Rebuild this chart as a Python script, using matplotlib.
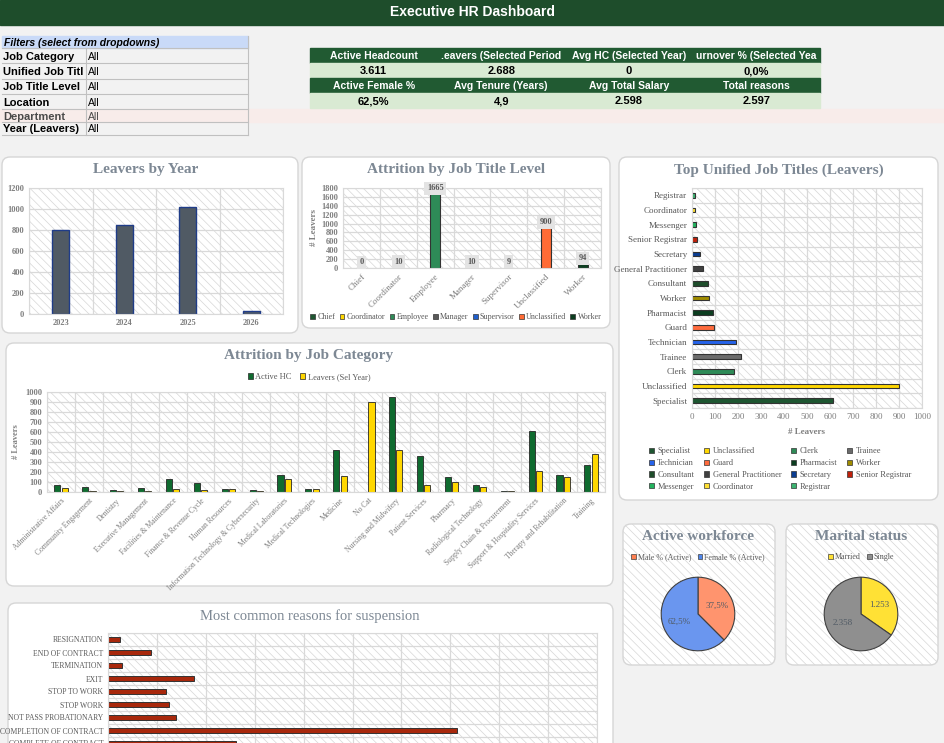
import numpy as np
import matplotlib.pyplot as plt
from matplotlib.patches import Rectangle, FancyBboxPatch, Patch

W, H = 945, 743
plt.rcParams['hatch.linewidth'] = 0.5
SERIF = ['Liberation Serif', 'DejaVu Serif']
NARROW = ['Liberation Sans Narrow', 'Liberation Sans', 'DejaVu Sans']

# ---- data ----
filter_labels = ['Job Category', 'Unified Job Titl', 'Job Title Level', 'Location', 'Department', 'Year (Leavers)']
filter_values = ['All', 'All', 'All', 'All', 'All', 'All']

kpi_head1 = ['Active Headcount', '.eavers (Selected Period', 'Avg HC (Selected Year)', 'urnover % (Selected Yea']
kpi_val1 = ['3.611', '2.688', '0', '0,0%']
kpi_head2 = ['Active Female %', 'Avg Tenure (Years)', 'Avg Total Salary', 'Total reasons']
kpi_val2 = ['62,5%', '4,9', '2.598', '2.597']

years = ['2023', '2024', '2025', '2026']
leavers_year = [800, 850, 1020, 30]

levels = ['Chief', 'Coordinator', 'Employee', 'Manager', 'Supervisor', 'Unclassified', 'Worker']
level_leavers = [0, 10, 1665, 10, 9, 900, 94]
level_colors = ['#1e5631', '#ffd700', '#2e8b57', '#595959', '#1f5fcc', '#ff6b35', '#0b3d1f']

job_titles = ['Specialist', 'Unclassified', 'Clerk', 'Trainee', 'Technician', 'Guard', 'Pharmacist',
              'Worker', 'Consultant', 'General Practitioner', 'Secretary', 'Senior Registrar',
              'Messenger', 'Coordinator', 'Registrar']
title_leavers = [612, 900, 183, 213, 191, 95, 91, 74, 70, 48, 35, 22, 17, 13, 13]
title_colors = ['#1e5631', '#ffd700', '#2e8b57', '#6b6b6b', '#2563eb', '#ff6b3d', '#0b3d1f',
                '#a08c00', '#1e4d2b', '#404040', '#0b3d91', '#c0200a', '#22b35e', '#ffe033', '#3cb371']

categories = ['Administrative Affairs', 'Community Engagement', 'Dentistry', 'Executive Management',
              'Facilities & Maintenance', 'Finance & Revenue Cycle', 'Human Resources',
              'Information Technology & Cybersecurity', 'Medical Laboratories', 'Medical Technologies',
              'Medicine', 'No Cat', 'Nursing and Midwifery', 'Patient Services', 'Pharmacy',
              'Radiological Technology', 'Supply Chain & Procurement', 'Support & Hospitality Services',
              'Therapy and Rehabilitation', 'Training']
active_hc = [75, 55, 25, 45, 135, 95, 35, 25, 175, 35, 420, 0, 955, 360, 155, 75, 15, 615, 175, 270]
leavers_sel = [45, 15, 15, 15, 35, 25, 35, 15, 135, 35, 160, 900, 420, 75, 105, 55, 15, 210, 155, 380]

gender = ['Male % (Active)', 'Female % (Active)']
gender_pct = [37.5, 62.5]
marital = ['Married', 'Single']
marital_count = [1253, 2358]

reasons = ['RESIGNATION', 'END OF CONTRACT', 'TERMINATION', 'EXIT', 'STOP TO WORK', 'STOP WORK',
           'NOT PASS PROBATIONARY', 'COMPLETION OF CONTRACT', 'COMPLETE OF CONTRACT']
reason_counts = [25, 88, 29, 175, 118, 124, 140, 713, 261]

TITLE_C = '#7d8894'
TICK_C = '#7f7f7f'
GRID_C = '#d9d9d9'


def box(x0, y0, x1, y1):
    return [x0 / W, 1 - y1 / H, (x1 - x0) / W, (y1 - y0) / H]


def style(ax):
    ax.set_facecolor('white')
    ax.add_patch(Rectangle((0, 0), 1, 1, transform=ax.transAxes, facecolor='white',
                           edgecolor='#d6d6d6', hatch='\\\\\\\\', linewidth=0, zorder=-1))
    for s in ax.spines.values():
        s.set_color(GRID_C)
    ax.set_axisbelow(True)
    ax.tick_params(length=0, colors=TICK_C, labelsize=6)
    for lab in ax.get_xticklabels() + ax.get_yticklabels():
        lab.set_family(SERIF)


fig = plt.figure(figsize=(9.45, 7.43), dpi=100)
fig.patch.set_facecolor('#f2f2f2')
bg = fig.add_axes([0, 0, 1, 1])
bg.set_xlim(0, W)
bg.set_ylim(H, 0)
bg.axis('off')

# header
bg.add_patch(Rectangle((0, 0), W, 25, color='#1e4d2b'))
bg.text(W / 2, 12.5, 'Executive HR Dashboard', color='white', weight='bold', fontsize=10,
        ha='center', va='center', family=['Liberation Sans', 'DejaVu Sans'])

# filters
bg.add_patch(Rectangle((2, 36), 246, 12, color='#c9daf8'))
bg.text(4, 42.5, 'Filters (select from dropdowns)', style='italic', weight='bold', fontsize=7.5,
        va='center', family=NARROW)
bounds = [48, 63, 79, 94, 109, 122, 135]
bg.add_patch(Rectangle((0, 109), W, 13, color='#f8ecea'))
for i, (lab, val) in enumerate(zip(filter_labels, filter_values)):
    yc = (bounds[i] + bounds[i + 1]) / 2 + 1
    col = '#4a4a4a' if lab == 'Department' else 'black'
    bg.text(3, yc, lab, weight='bold', fontsize=8, va='center', family=NARROW, color=col)
    bg.text(88, yc, val, fontsize=7.5, va='center', family=NARROW, color=col)
for b in bounds:
    bg.plot([2, 248], [b, b], color='#c0c0c0', lw=0.8)
bg.plot([86, 86], [48, 135], color='#c0c0c0', lw=0.8)
bg.plot([248, 248], [36, 135], color='#c0c0c0', lw=0.8)

# KPI table
kx0, kw = 310, 127.5
rows = [(kpi_head1, 48, True), (kpi_val1, 63, False), (kpi_head2, 78, True), (kpi_val2, 93, False)]
for texts, y0, head in rows:
    bg.add_patch(Rectangle((kx0, y0), kw * 4, 15, color='#215a32' if head else '#d9ead3'))
    for j, t in enumerate(texts):
        bg.text(kx0 + kw * (j + 0.5), y0 + 8, t, ha='center', va='center', weight='bold',
                fontsize=7.5 if head else 8, color='white' if head else 'black', family=NARROW,
                clip_on=True)

# cards
cards = [(2, 157, 298, 333, False), (302, 157, 610, 328, False), (619, 157, 938, 500, False),
         (6, 343, 613, 586, False), (623, 524, 775, 665, True), (786, 524, 938, 665, True),
         (8, 603, 613, 790, False)]
for x0, y0, x1, y1, hat in cards:
    bg.add_patch(FancyBboxPatch((x0, y0), x1 - x0, y1 - y0, boxstyle='round,pad=0,rounding_size=8',
                                facecolor='white', edgecolor='#d6d6d6', lw=1,
                                hatch='\\\\\\\\' if hat else None))

tkw = dict(ha='center', va='center', color=TITLE_C, fontsize=11, weight='bold', family=SERIF)
bg.text(146, 170, 'Leavers by Year', **tkw)
bg.text(456, 170, 'Attrition by Job Title Level', **tkw)
bg.text(779, 170, 'Top Unified Job Titles (Leavers)', **tkw)
bg.text(309, 355, 'Attrition by Job Category', **tkw)
bg.text(698, 537, 'Active workforce', **tkw)
bg.text(861, 537, 'Marital status', **tkw)
bg.text(310, 616, 'Most common reasons for suspension', ha='center', va='center', color=TITLE_C,
        fontsize=10.5, family=SERIF)

# Leavers by Year
ax1 = fig.add_axes(box(29, 188, 283, 314))
style(ax1)
ax1.bar(years, leavers_year, width=0.27, color='#505a64', edgecolor='#1f3c88', lw=1)
ax1.set_ylim(0, 1200)
ax1.set_yticks(range(0, 1201, 200))
ax1.set_xlim(-0.5, 3.5)
ax1.set_xticks(np.arange(-0.5, 4, 1), minor=True)
ax1.grid(axis='y', color=GRID_C, lw=0.9)
ax1.grid(axis='x', which='minor', color=GRID_C, lw=0.9)
ax1.tick_params(which='minor', length=0)
for lab in ax1.get_xticklabels() + ax1.get_yticklabels():
    lab.set_weight('bold')

# Attrition by Job Title Level
ax2 = fig.add_axes(box(343, 188, 601, 268))
style(ax2)
xl = np.arange(len(levels))
ax2.bar(xl, level_leavers, width=0.27, color=level_colors, edgecolor='#333333', lw=0.8)
for x, v in zip(xl, level_leavers):
    ax2.text(x, v + 130, str(v), ha='center', va='center', fontsize=6, weight='bold',
             color='#595959', family=SERIF, clip_on=False,
             bbox=dict(facecolor='#e3e3e3', edgecolor='none', pad=1.8))
ax2.set_ylim(0, 1800)
ax2.set_yticks(range(0, 1801, 200))
ax2.set_xlim(-0.5, len(levels) - 0.5)
ax2.set_xticks(xl)
ax2.set_xticklabels(levels, rotation=45, ha='right', rotation_mode='anchor', family=SERIF,
                    fontsize=6.5)
ax2.set_xticks(np.arange(-0.5, len(levels), 1), minor=True)
ax2.grid(axis='y', color=GRID_C, lw=0.9)
ax2.grid(axis='x', which='minor', color=GRID_C, lw=0.9)
ax2.tick_params(which='minor', length=0)
ax2.set_ylabel('# Leavers', fontsize=6.5, weight='bold', color=TICK_C, family=SERIF, labelpad=2)
for lab in ax2.get_yticklabels():
    lab.set_weight('bold')
h2 = [Patch(facecolor=c, edgecolor='#333333', lw=0.5) for c in level_colors]
fig.legend(h2, levels, loc='center', bbox_to_anchor=(456 / W, 1 - 317 / H), ncol=7,
           frameon=False, prop={'family': SERIF, 'size': 5.8}, handlelength=0.6,
           handleheight=0.6, handletextpad=0.3, columnspacing=0.5, labelcolor='#595959')

# Top Unified Job Titles
ax3 = fig.add_axes(box(692, 188, 922, 408))
style(ax3)
yt = np.arange(len(job_titles))
ax3.barh(yt, title_leavers, height=0.3, color=title_colors, edgecolor='#333333', lw=0.8)
ax3.set_xlim(0, 1000)
ax3.set_xticks(range(0, 1001, 100))
ax3.set_ylim(-0.5, len(job_titles) - 0.5)
ax3.set_yticks(yt)
ax3.set_yticklabels(job_titles, family=SERIF, fontsize=6.5, color='#595959')
ax3.set_yticks(np.arange(-0.5, len(job_titles), 1), minor=True)
ax3.grid(axis='x', color=GRID_C, lw=0.9)
ax3.grid(axis='y', which='minor', color=GRID_C, lw=0.9)
ax3.tick_params(which='minor', length=0)
ax3.tick_params(axis='x', labelsize=6.5)
ax3.set_xlabel('# Leavers', fontsize=6.5, weight='bold', color=TICK_C, family=SERIF, labelpad=5)
order = [0, 4, 8, 12, 1, 5, 9, 13, 2, 6, 10, 14, 3, 7, 11]
h3 = [Patch(facecolor=title_colors[i], edgecolor='#333333', lw=0.5) for i in order]
fig.legend(h3, [job_titles[i] for i in order], loc='center', bbox_to_anchor=(780 / W, 1 - 469 / H),
           ncol=4, frameon=False, prop={'family': SERIF, 'size': 6}, handlelength=0.6,
           handleheight=0.6, handletextpad=0.4, columnspacing=1.2, labelspacing=0.45,
           labelcolor='#595959')

# Attrition by Job Category
ax4 = fig.add_axes(box(47, 392, 605, 492))
style(ax4)
xc = np.arange(len(categories))
ax4.bar(xc - 0.13, active_hc, width=0.22, color='#0f6b2f', edgecolor='#262626', lw=0.6)
ax4.bar(xc + 0.13, leavers_sel, width=0.22, color='#ffd700', edgecolor='#262626', lw=0.6)
ax4.set_ylim(0, 1000)
ax4.set_yticks(range(0, 1001, 100))
ax4.set_xlim(-0.5, len(categories) - 0.5)
ax4.set_xticks(xc)
ax4.set_xticklabels(categories, rotation=45, ha='right', rotation_mode='anchor', family=SERIF,
                    fontsize=5.5)
ax4.set_xticks(np.arange(-0.5, len(categories), 1), minor=True)
ax4.grid(axis='y', color=GRID_C, lw=0.9)
ax4.grid(axis='x', which='minor', color=GRID_C, lw=0.9)
ax4.tick_params(which='minor', length=0)
ax4.set_ylabel('# Leavers', fontsize=6, weight='bold', color=TICK_C, family=SERIF, labelpad=4)
for lab in ax4.get_yticklabels():
    lab.set_weight('bold')
h4 = [Patch(facecolor='#0f6b2f', edgecolor='#262626', lw=0.5),
      Patch(facecolor='#ffd700', edgecolor='#262626', lw=0.5)]
fig.legend(h4, ['Active HC', 'Leavers (Sel Year)'], loc='center', bbox_to_anchor=(309 / W, 1 - 377 / H),
           ncol=2, frameon=False, prop={'family': SERIF, 'size': 6}, handlelength=0.6,
           handleheight=0.6, handletextpad=0.3, columnspacing=1.0, labelcolor='#595959')

# pies
ax5 = fig.add_axes(box(652, 568, 744, 660))
ax5.pie(gender_pct, colors=['#ff946e', '#6a96ef'], startangle=90, counterclock=False,
        wedgeprops=dict(edgecolor='#404040', lw=0.8),
        autopct=lambda p: f'{p:.1f}%'.replace('.', ','), pctdistance=0.55,
        textprops=dict(fontsize=6.5, color='#505a64', family=SERIF))
ax5.set_aspect('equal')
h5 = [Patch(facecolor=c, edgecolor='#404040', lw=0.5) for c in ['#ff7f50', '#4f86ec']]
fig.legend(h5, gender, loc='center', bbox_to_anchor=(698 / W, 1 - 557 / H), ncol=2, frameon=False,
           prop={'family': SERIF, 'size': 5.8}, handlelength=0.6, handleheight=0.6,
           handletextpad=0.2, columnspacing=0.8, labelcolor='#595959')

total = sum(marital_count)
ax6 = fig.add_axes(box(815, 568, 907, 660))
ax6.pie(marital_count, colors=['#ffe135', '#8f8f8f'], startangle=90, counterclock=False,
        wedgeprops=dict(edgecolor='#404040', lw=0.8),
        autopct=lambda p: f'{p * total / 100:,.0f}'.replace(',', '.'), pctdistance=0.55,
        textprops=dict(fontsize=6.5, color='#505a64', family=SERIF))
ax6.set_aspect('equal')
h6 = [Patch(facecolor=c, edgecolor='#404040', lw=0.5) for c in ['#ffe135', '#8f8f8f']]
fig.legend(h6, marital, loc='center', bbox_to_anchor=(861 / W, 1 - 557 / H), ncol=2, frameon=False,
           prop={'family': SERIF, 'size': 5.8}, handlelength=0.6, handleheight=0.6,
           handletextpad=0.2, columnspacing=0.8, labelcolor='#595959')

# suspension reasons (bottom of the card runs off the page, as in the dashboard)
ax7 = fig.add_axes(box(108, 633, 597, 750))
style(ax7)
yr = np.arange(len(reasons))
ax7.barh(yr, reason_counts, height=0.35, color='#a8280c', edgecolor='#333333', lw=0.7)
ax7.set_ylim(len(reasons) - 0.5, -0.5)
ax7.set_xlim(0, 1000)
ax7.set_xticks(range(0, 1001, 100))
ax7.tick_params(labelbottom=False)
ax7.set_yticks(yr)
ax7.set_yticklabels(reasons, family=SERIF, fontsize=5.5, color='#595959')
ax7.set_yticks(np.arange(-0.5, len(reasons), 1), minor=True)
ax7.grid(axis='x', color=GRID_C, lw=0.9)
ax7.grid(axis='y', which='minor', color=GRID_C, lw=0.9)
ax7.tick_params(which='minor', length=0)

fig.savefig('out.png', dpi=100, facecolor=fig.get_facecolor())
